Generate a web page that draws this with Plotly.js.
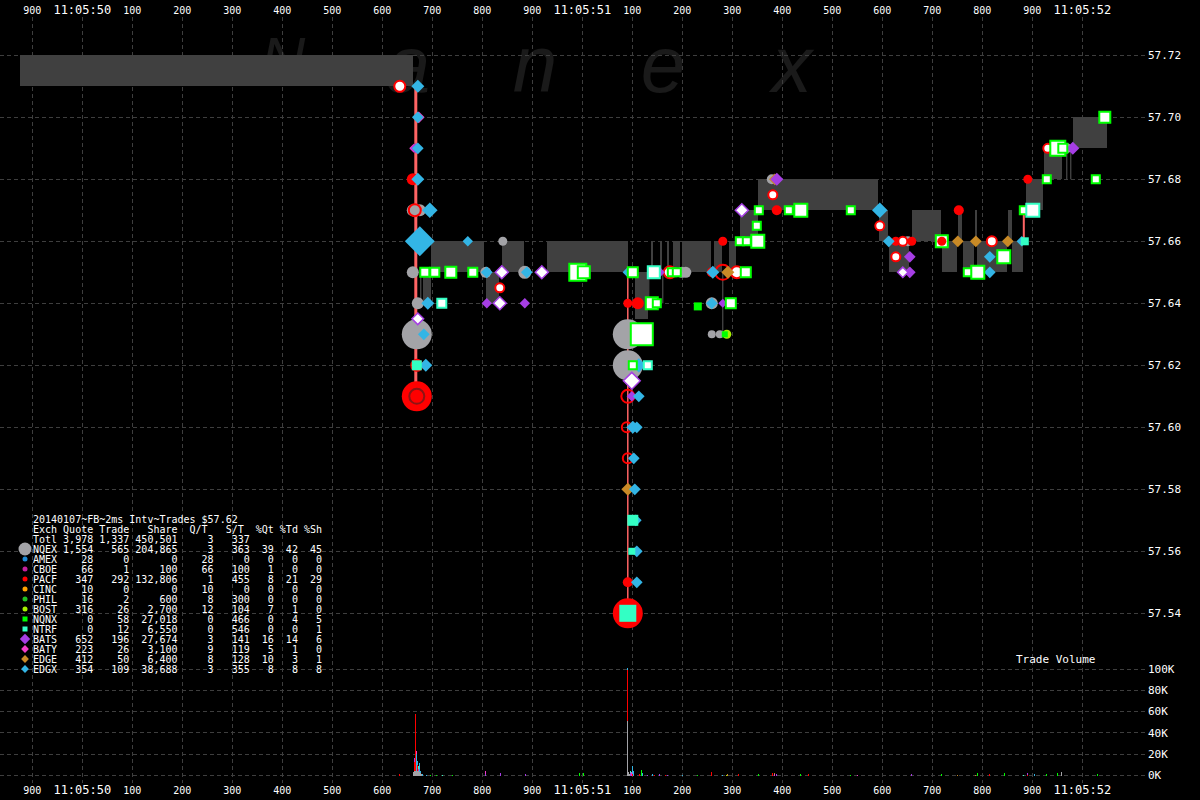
<!DOCTYPE html>
<html><head><meta charset="utf-8">
<script src="https://cdn.plot.ly/plotly-3.0.1.min.js"></script>
<style>html,body{margin:0;padding:0;background:#000;}#chart{width:1200px;height:800px;}</style>
</head><body><div id="chart"></div>
<script>
// ---------------- DATA ----------------
// time axis: milliseconds after 11:05:50.000
const TIME_TICKS = [-100,0,100,200,300,400,500,600,700,800,900,1000,1100,1200,1300,1400,1500,1600,1700,1800,1900,2000];
const TIME_LABELS = ["900","11:05:50","100","200","300","400","500","600","700","800","900","11:05:51","100","200","300","400","500","600","700","800","900","11:05:52"];
const PRICE_TICKS = [57.54,57.56,57.58,57.60,57.62,57.64,57.66,57.68,57.70,57.72];
const PRICE_LABELS = ["57.54","57.56","57.58","57.60","57.62","57.64","57.66","57.68","57.70","57.72"];
const VOL_TICKS = [0,20000,40000,60000,80000,100000];
const VOL_LABELS = ["0K","20K","40K","60K","80K","100K"];

// NBBO spread boxes: start ms, end ms, bid, ask
const spreadStart = [-125,681,697,807,839,929,1105,1137,1155,1169,1181,1199,1263,1293,1315,1351,1593,1613,1659,1719,1751,1761,1785,1789,1851,1859,1887,1923,1981];
const spreadEnd   = [661,697,803,833,883,1091,1131,1141,1159,1173,1195,1257,1279,1307,1351,1591,1611,1653,1717,1749,1759,1783,1789,1849,1859,1881,1921,1959,2049];
const spreadBid   = [57.71,57.64,57.65,57.64,57.65,57.65,57.635,57.65,57.65,57.65,57.65,57.65,57.65,57.65,57.66,57.67,57.66,57.65,57.66,57.65,57.66,57.65,57.66,57.65,57.66,57.65,57.67,57.68,57.69];
const spreadAsk   = [57.72,57.65,57.66,57.65,57.66,57.66,57.65,57.66,57.66,57.66,57.66,57.66,57.66,57.66,57.67,57.68,57.67,57.66,57.67,57.66,57.67,57.66,57.67,57.66,57.67,57.66,57.68,57.69,57.70];

// thin quote wicks: time, low, high
const wickT = [677,1133,1161,1281,1969,1977];
const wickLo = [57.64,57.64,57.64,57.63,57.68,57.68];
const wickHi = [57.65,57.65,57.65,57.65,57.69,57.69];

// sweep lines: time, from, to
const sweepT = [667,1091,1883];
const sweepFrom = [57.71,57.65,57.67];
const sweepTo = [57.61,57.54,57.66];

// trades per exchange: time, price, relative size
const nqexT = [661,675,661,671,669,807,841,885,1091,1091,1199,1207,1259,1259,1275,1379,1651,1951,1969];
const nqexP = [57.67,57.67,57.65,57.64,57.63,57.65,57.66,57.65,57.63,57.62,57.65,57.65,57.64,57.63,57.63,57.68,57.66,57.69,57.69];
const nqexS = [12,12,12,12,30,11,9,13,30,30,11,11,12,8,8,10,10,12,10];

const pacfT = [661,669,1091,1111,1091,1091,1259,1281,1389,1627,1659,1753,1891];
const pacfP = [57.68,57.61,57.64,57.64,57.55,57.54,57.65,57.66,57.67,57.66,57.66,57.67,57.68];
const pacfS = [12,30,9,12,10,30,10,9,10,9,9,10,9];

const pacfWhiteT = [635,835,1175,1309,1381,1595,1627,1819,1931,1641];
const pacfWhiteP = [57.71,57.645,57.65,57.65,57.675,57.665,57.655,57.66,57.69,57.66];
const pacfWhiteS = [11,9,12,12,9,9,9,10,9,9];

const pacfRingT = [669,665,1281,1091,1089,1091];
const pacfRingP = [57.62,57.67,57.65,57.61,57.60,57.59];
const pacfRingS = [11,12,15,13,10,10];

const pacfInnerT = [669];
const pacfInnerP = [57.61];

const pacfTopT = [1719];
const pacfTopP = [57.66];

const edgxT = [671,671,671,671,695,675,691,683,687,771,809,889,1091,1113,1113,1101,1109,1103,1105,1107,1109,1109,1141,1261,1259,1595,1613,1815,1815,1879,695];
const edgxP = [57.71,57.70,57.69,57.68,57.67,57.66,57.64,57.63,57.62,57.66,57.65,57.65,57.65,57.62,57.61,57.60,57.60,57.59,57.58,57.57,57.56,57.55,57.65,57.65,57.64,57.67,57.66,57.655,57.65,57.66,57.65];
const edgxS = [10,9,9,10,12,23,10,9,10,8,9,9,8,11,9,10,9,9,9,9,9,9,9,10,9,12,9,9,9,8,8];

const batsT = [667,737,809,885,1155,1281,1389,1655,1655,1981,1099];
const batsP = [57.69,57.65,57.64,57.64,57.65,57.64,57.68,57.655,57.65,57.69,57.61];
const batsS = [8,8,8,8,8,7,10,9,9,10,8];

const batsWhiteT = [671,839,835,919,1099,1319,1641];
const batsWhiteP = [57.635,57.65,57.64,57.65,57.615,57.67,57.65];
const batsWhiteS = [9,10,10,10,13,10,8];

const batyT = [673,663];
const batyP = [57.70,57.69];
const batyS = [9,7];

const edgeT = [1291,1091,1385,1751,1787,1851,667];
const edgeP = [57.65,57.58,57.68,57.66,57.66,57.66,57.62];
const edgeS = [10,10,9,9,9,9,7];

const nqnxWhiteT = [685,705,737,781,991,1003,1101,1139,1149,1119,1179,1189,1327,1297,1315,1329,1351,1349,1353,1413,1437,1537,1719,1771,1791,1843,1883,1929,2027,1951,1961,2045,1101];
const nqnxWhiteP = [57.65,57.65,57.65,57.65,57.65,57.65,57.65,57.64,57.64,57.63,57.65,57.65,57.65,57.64,57.66,57.66,57.66,57.665,57.67,57.67,57.67,57.67,57.66,57.65,57.65,57.655,57.67,57.68,57.68,57.69,57.69,57.70,57.62];
const nqnxWhiteS = [9,9,11,9,17,12,10,12,8,22,8,8,10,10,8,8,13,8,8,8,13,8,12,8,13,13,8,8,8,15,9,11,8];

const nqnxT = [1231,1285];
const nqnxP = [57.639,57.63];
const nqnxS = [8,6];

const ntrfT = [669,1091,1101,1099,1885];
const ntrfP = [57.62,57.54,57.57,57.56,57.66];
const ntrfS = [10,17,11,7,8];

const ntrfWhiteT = [719,1131,1901,1143];
const ntrfWhiteP = [57.64,57.62,57.67,57.65];
const ntrfWhiteS = [9,8,13,12];

const bostT = [1289];
const bostP = [57.63];
const bostS = [9];

// trade volume (shares per 2ms interval)
const volNqexT = [663,665,667,669,671,673,675,677,679,1091,1093,1095,1959];
const volNqexV = [3500,4000,4000,4000,4000,4000,3500,2500,1500,51000,3000,1500,3000];
const volPacfT = [635,665,667,671,1091,1101,1115,1145,1167,1259,1313,1381,1453,1815,1891];
const volPacfV = [1500,9000,54000,6000,48000,1500,1000,800,700,3000,1500,2500,1000,1200,800];
const volEdgxT = [669,671,675,677,681,689,1091,1101,1103,1121,1141,1201,1281,1905];
const volEdgxV = [16000,4000,8000,2000,1000,600,2000,7000,4000,2000,1000,800,900,1500];
const volBatsT = [665,673,807,837,887,1097,1131,1155,1171,1389,1659,1891];
const volBatsV = [3000,2000,1500,2000,1500,2500,800,1000,800,1500,1500,2000];
const volBatyT = [669,807,1099,1385,1551];
const volBatyV = [3000,2500,3000,1000,600];
const volNqnxT = [697,709,741,995,1003,1119,1231,1353,1437,1537,1719,1791,1845,1929,1951,2031];
const volNqnxV = [500,500,600,2500,2500,5000,800,1000,1500,600,1500,2000,2000,1500,2000,1000];
const volNtrfT = [673,721,1097,1883];
const volNtrfV = [3000,500,2000,700];
const volEdgeT = [1291,1385,1751,1787];
const volEdgeV = [1500,1000,700,700];
const volBostT = [1289];
const volBostV = [500];

// summary table
const TABLE_TITLE = "20140107~FB~2ms Intv~Trades $57.62";
const TOTAL_ROW = ["Totl","3,978","1,337","450,501","3","337","","",""];
const EXCH  = ["NQEX","AMEX","CBOE","PACF","CINC","PHIL","BOST","NQNX","NTRF","BATS","BATY","EDGE","EDGX"];
const QUOTE = ["1,554","28","66","347","10","16","316","0","0","652","223","412","354"];
const TRADE = ["565","0","1","292","0","2","26","58","12","196","26","50","109"];
const SHARE = ["204,865","0","100","132,806","0","600","2,700","27,018","6,550","27,674","3,100","6,400","38,688"];
const QT    = ["3","28","66","1","10","8","12","0","0","3","9","8","3"];
const ST    = ["363","0","100","455","0","300","104","466","546","141","119","128","355"];
const PQT   = ["39","0","1","8","0","0","7","0","0","16","5","10","8"];
const PTD   = ["42","0","0","21","0","0","1","4","0","14","1","3","8"];
const PSH   = ["45","0","0","29","0","0","0","5","1","6","0","1","8"];

// ---------------- STYLE ----------------
const C = {
  NQEX:'#a3a3a7', AMEX:'#1e8ad6', CBOE:'#c4219c', PACF:'#ff0000', CINC:'#ffa200', PHIL:'#22c022',
  BOST:'#a6f000', NQNX:'#00ff00', NTRF:'#33ffc4', BATS:'#a63ee4', BATY:'#f23cc8', EDGE:'#c98a26', EDGX:'#33b5e5'
};
const LEG_SYM = {NQEX:['circle',13],AMEX:['circle',5],CBOE:['circle',5],PACF:['circle',5],CINC:['circle',5],PHIL:['circle',5],
  BOST:['circle',5],NQNX:['square',5],NTRF:['square',5],BATS:['diamond',8],BATY:['diamond',6],EDGE:['diamond',6],EDGX:['diamond',6]};
const GRID = '#3e3e3e';
const DASH = '4px,3px';
const MONO = 'DejaVu Sans Mono';

const W = 1147, TOP = 17, BOT = 783, SPLIT_PX = 640;
const SPLIT = (BOT - SPLIT_PX) / (BOT - TOP);
const X0 = -164.6, X1 = X0 + 2 * W;
const pxPerDollar = 3100, p72px = 55.3;
const Y_TOP = 57.72 + (p72px - TOP) / pxPerDollar;
const Y_BOT = 57.72 - (SPLIT_PX - p72px) / pxPerDollar;
const v0px = 775.5, vPx100k = 106.5;
const V_BOT = -(BOT - v0px) / vPx100k * 100000;
const V_TOP = (v0px - SPLIT_PX) / vPx100k * 100000;

// ---------------- TRACES ----------------
const traces = [];
traces.push({type:'bar', xaxis:'x', yaxis:'y',
  x: spreadStart.map((s,i)=>(s+spreadEnd[i])/2),
  width: spreadStart.map((s,i)=>spreadEnd[i]-s),
  base: spreadBid,
  y: spreadBid.map((b,i)=>+(spreadAsk[i]-b).toFixed(4)),
  marker:{color:'#404040', line:{width:0}}, hoverinfo:'skip'});
function segs(t, a, b){ const x=[],y=[]; t.forEach((v,i)=>{x.push(v,v,null);y.push(a[i],b[i],null);}); return {x,y}; }
const wk = segs(wickT, wickLo, wickHi);
traces.push({type:'scatter', mode:'lines', x:wk.x, y:wk.y, xaxis:'x', yaxis:'y', line:{color:'#5a5a5a', width:1}, hoverinfo:'skip'});
const sweepW = [3,1.5,2];
sweepT.forEach((t,i)=>{
  traces.push({type:'scatter', mode:'lines', x:[t,t], y:[sweepFrom[i],sweepTo[i]], xaxis:'x', yaxis:'y',
    line:{color:'#ff6464', width:sweepW[i]}, hoverinfo:'skip'});
});
function mk(x, y, s, sym, fill, lineColor, lw){
  return {type:'scatter', mode:'markers', x, y, xaxis:'x', yaxis:'y', hoverinfo:'skip', cliponaxis:false,
    marker:{symbol:sym, size:s, color:fill, opacity:1, line:{color:lineColor||fill, width:lw||0}}};
}
traces.push(mk(nqexT, nqexP, nqexS, 'circle', C.NQEX));
traces.push(mk(pacfT, pacfP, pacfS, 'circle', C.PACF));
traces.push(mk(pacfInnerT, pacfInnerP, [15], 'circle-open', '#8c1414', '#8c1414', 2));
traces.push(mk(pacfRingT, pacfRingP, pacfRingS, 'circle-open', C.PACF, C.PACF, 2));
traces.push(mk(pacfWhiteT, pacfWhiteP, pacfWhiteS, 'circle', '#ffffff', C.PACF, 2));
traces.push(mk(bostT, bostP, bostS, 'circle', C.BOST));
traces.push(mk(edgeT, edgeP, edgeS, 'diamond', C.EDGE));
traces.push(mk(batyT, batyP, batyS, 'diamond', C.BATY));
traces.push(mk(batsT, batsP, batsS, 'diamond', C.BATS));
traces.push(mk(batsWhiteT, batsWhiteP, batsWhiteS, 'diamond', '#ffffff', C.BATS, 1.5));
traces.push(mk(edgxT, edgxP, edgxS, 'diamond', C.EDGX));
traces.push(mk(nqnxT, nqnxP, nqnxS, 'square', C.NQNX));
traces.push(mk(nqnxWhiteT, nqnxWhiteP, nqnxWhiteS, 'square', '#ffffff', C.NQNX, 2));
traces.push(mk(ntrfWhiteT, ntrfWhiteP, ntrfWhiteS, 'square', '#ffffff', C.NTRF, 2));
traces.push(mk(ntrfT, ntrfP, ntrfS, 'square', C.NTRF));
traces.push(mk(pacfTopT, pacfTopP, [9], 'circle', C.PACF));

[[volNqexT,volNqexV,C.NQEX],[volPacfT,volPacfV,C.PACF],[volEdgxT,volEdgxV,C.EDGX],[volBatsT,volBatsV,C.BATS],
 [volBatyT,volBatyV,C.BATY],[volNqnxT,volNqnxV,C.NQNX],[volNtrfT,volNtrfV,C.NTRF],[volEdgeT,volEdgeV,C.EDGE],
 [volBostT,volBostV,C.BOST]].forEach(([t,v,c])=>{
  traces.push({type:'bar', x:t, y:v, width:2.2, xaxis:'x2', yaxis:'y2', marker:{color:c, opacity:1, line:{width:0}}, hoverinfo:'skip'});
});

const ROW0 = 519, ROWH = 10;
traces.push({type:'scatter', mode:'markers', xaxis:'x3', yaxis:'y3', hoverinfo:'skip', cliponaxis:false,
  x: EXCH.map(()=>25), y: EXCH.map((e,i)=>ROW0 + (i+3)*ROWH),
  marker:{symbol:EXCH.map(e=>LEG_SYM[e][0]), size:EXCH.map(e=>LEG_SYM[e][1]), color:EXCH.map(e=>C[e]), opacity:1, line:{width:0}}});

// ---------------- TABLE TEXT ----------------
const nb = s => s.replace(/ /g,'\u00a0');
function row(c){
  return c[0] + ' ' + c[1].padStart(5) + ' ' + c[2].padStart(5) + ' ' + c[3].padStart(7) +
    c[4].padStart(6) + c[5].padStart(6) + c[6].padStart(4) + c[7].padStart(4) + c[8].padStart(4);
}
const head = 'Exch Quote Trade   Share  Q/T   S/T  %Qt %Td %Sh';
const lines = [TABLE_TITLE, head, row(TOTAL_ROW)];
EXCH.forEach((e,i)=>lines.push(row([e,QUOTE[i],TRADE[i],SHARE[i],QT[i],ST[i],PQT[i],PTD[i],PSH[i]])));
const pyToPaper = py => 1 - (py - TOP) / (BOT - TOP);
const annotations = lines.map((l,i)=>({xref:'paper', yref:'paper', x:32/W, y:pyToPaper(ROW0 + i*ROWH),
  xanchor:'left', yanchor:'middle', showarrow:false, text:nb(l), borderpad:0,
  font:{family:MONO, size:10, color:'#ffffff'}}));
annotations.push({xref:'paper', yref:'paper', x:1055/W, y:pyToPaper(659), xanchor:'center', yanchor:'middle',
  showarrow:false, text:'Trade Volume', font:{family:MONO, size:11, color:'#ffffff'}});

const WM = ['N','a','n','e','x'];
const WMX = [283,408,535,663,792];
const WMY = [52,56,56,56,56];
const WMS = [62,80,80,80,80];
const shapes = WM.map((ch,i)=>({type:'rect', xref:'paper', yref:'paper', layer:'below',
  x0:(WMX[i]-45)/W, x1:(WMX[i]+45)/W, y0:pyToPaper(WMY[i]+45), y1:pyToPaper(WMY[i]-45),
  line:{width:0}, fillcolor:'rgba(0,0,0,0)',
  label:{text:ch, textposition:'middle center', font:{family:'Liberation Sans', size:WMS[i], color:'#1a1a1a', style:'italic'}}}));

const timeText = TIME_LABELS.map(l => l.indexOf(':')>=0 ? '<span style="font-size:12px">'+l+'</span>' : l);
const xCommon = {range:[X0,X1], tickmode:'array', tickvals:TIME_TICKS, ticktext:timeText, showgrid:true,
  gridcolor:GRID, griddash:DASH, gridwidth:1, zeroline:false, showline:false, ticks:'',
  tickfont:{family:MONO, size:10, color:'#ffffff'}, fixedrange:true, domain:[0,1]};
const yCommon = {side:'right', tickmode:'array', showgrid:true, gridcolor:GRID, griddash:DASH, gridwidth:1,
  zeroline:false, showline:false, ticks:'', tickfont:{family:MONO, size:11, color:'#ffffff'}, fixedrange:true};

const layout = {
  width:1200, height:800, paper_bgcolor:'#000000', plot_bgcolor:'rgba(0,0,0,0)',
  margin:{l:0, r:53, t:TOP, b:800-BOT, pad:0}, showlegend:false, barmode:'stack', bargap:0,
  font:{family:MONO, color:'#ffffff', size:10},
  xaxis:Object.assign({}, xCommon, {anchor:'y', side:'top'}),
  xaxis2:Object.assign({}, xCommon, {anchor:'y2', side:'bottom'}),
  yaxis:Object.assign({}, yCommon, {anchor:'x', domain:[SPLIT,1], range:[Y_BOT,Y_TOP], tickvals:PRICE_TICKS, ticktext:PRICE_LABELS}),
  yaxis2:Object.assign({}, yCommon, {anchor:'x2', domain:[0,SPLIT], range:[V_BOT,V_TOP], tickvals:VOL_TICKS, ticktext:VOL_LABELS}),
  xaxis3:{domain:[0,1], anchor:'y3', range:[0,W], visible:false, fixedrange:true},
  yaxis3:{domain:[0,1], anchor:'x3', range:[BOT,TOP], visible:false, fixedrange:true},
  annotations, shapes
};
Plotly.newPlot('chart', traces, layout, {displayModeBar:false, staticPlot:true});
</script></body></html>
